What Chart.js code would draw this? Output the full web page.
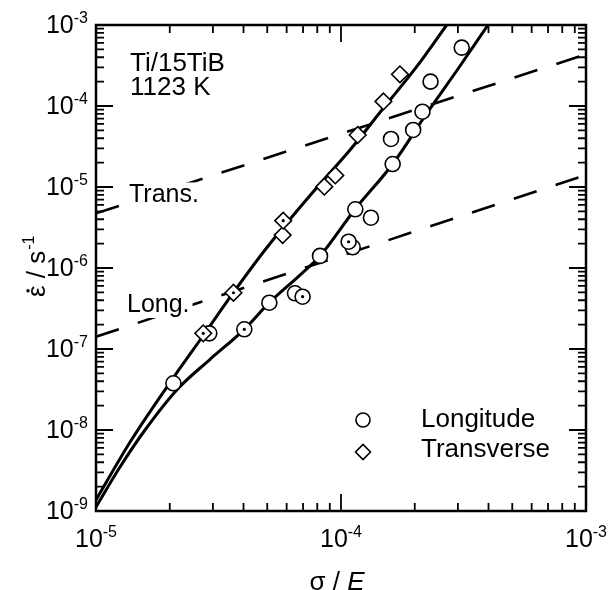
<!DOCTYPE html>
<html>
<head>
<meta charset="utf-8">
<script src="https://cdn.jsdelivr.net/npm/chart.js@4/dist/chart.umd.min.js"></script>
<style>
html,body{margin:0;padding:0;background:#fff;}
#wrap{width:612px;height:590px;position:relative;}
</style>
</head>
<body>
<div id="wrap"><canvas id="c"></canvas></div>
<script>
// ---- Data ----
const seriesNames = ['Longitude', 'Transverse'];

// Longitude (circles)
const longX   = [2.07e-5, 2.90e-5, 4.03e-5, 5.10e-5, 6.49e-5, 6.97e-5, 8.21e-5, 1.116e-4, 1.074e-4, 1.144e-4, 1.325e-4, 1.60e-4, 1.625e-4, 1.97e-4, 2.15e-4, 2.32e-4, 3.11e-4];
const longY   = [3.77e-8, 1.56e-7, 1.75e-7, 3.73e-7, 4.87e-7, 4.42e-7, 1.41e-6, 1.80e-6, 2.11e-6, 5.31e-6, 4.18e-6, 3.92e-5, 1.92e-5, 5.06e-5, 8.51e-5, 2.00e-4, 5.25e-4];
const longDot = [0, 0, 1, 0, 0, 1, 0, 0, 1, 0, 0, 0, 0, 0, 0, 0, 0];

// Transverse (diamonds)
const transX   = [2.74e-5, 3.64e-5, 5.78e-5, 5.81e-5, 8.55e-5, 9.48e-5, 1.17e-4, 1.49e-4, 1.74e-4];
const transY   = [1.56e-7, 4.95e-7, 2.55e-6, 3.84e-6, 1.01e-5, 1.39e-5, 4.38e-5, 1.14e-4, 2.46e-4];
const transDot = [1, 1, 0, 1, 0, 0, 0, 0, 0];

// Solid fitted curves
const transCurveX = [1.00e-5, 1.368e-5, 1.931e-5, 2.786e-5, 3.635e-5, 4.895e-5, 7.708e-5, 1.088e-4, 1.488e-4, 2.037e-4, 2.700e-4];
const transCurveY = [1.367e-9, 6.85e-9, 3.27e-8, 1.576e-7, 4.955e-7, 1.668e-6, 8.75e-6, 2.862e-5, 9.37e-5, 3.056e-4, 1.0e-3];
const longCurveX  = [1.00e-5, 1.253e-5, 1.585e-5, 2.155e-5, 2.900e-5, 4.030e-5, 5.097e-5, 6.80e-5, 8.21e-5, 1.141e-4, 1.626e-4, 2.244e-4, 3.060e-4, 3.981e-4];
const longCurveY  = [1.12e-9, 3.49e-9, 1.00e-8, 3.21e-8, 7.31e-8, 1.75e-7, 3.73e-7, 8.19e-7, 1.406e-6, 5.31e-6, 1.923e-5, 8.19e-5, 3.117e-4, 1.0e-3];

// Dashed guide lines
const transGuideX = [1e-5, 1e-3];
const transGuideY = [4.73e-6, 4.35e-4];
const longGuideX  = [1e-5, 1e-3];
const longGuideY  = [1.42e-7, 1.41e-5];

// Axis ticks
const xDecades = [1e-5, 1e-4, 1e-3];
const xExps    = ['-5', '-4', '-3'];
const yDecades = [1e-9, 1e-8, 1e-7, 1e-6, 1e-5, 1e-4, 1e-3];
const yExps    = ['-9', '-8', '-7', '-6', '-5', '-4', '-3'];
const minorMultipliers = [2, 3, 4, 5, 6, 7, 8, 9];

// ---- helpers ----
const pts = (xs, ys) => xs.map((x, i) => ({x: x, y: ys[i]}));
const ptsWhere = (xs, ys, flags) => pts(xs, ys).filter((p, i) => flags[i]);
const FONT = '"Liberation Sans", Arial, Helvetica, sans-serif';

const decor = {
  id: 'decor',
  afterDatasetsDraw(chart) {
    const ctx = chart.ctx;
    const a = chart.chartArea;
    const xs = chart.scales.x, ys = chart.scales.y;
    ctx.save();
    ctx.fillStyle = '#000';
    ctx.textBaseline = 'alphabetic';

    // Labels on dashed lines (white backing hides the dash underneath)
    function boxedLabel(txt, lx, by, size) {
      ctx.font = size + 'px ' + FONT;
      const w = ctx.measureText(txt).width;
      ctx.fillStyle = '#fff';
      ctx.fillRect(lx - 2, by - size * 0.78, w + 5, size * 1.02);
      ctx.fillStyle = '#000';
      ctx.textAlign = 'left';
      ctx.fillText(txt, lx, by);
    }
    boxedLabel('Trans.', a.left + 33, a.top + 177, 25);
    boxedLabel('Long.', a.left + 31, a.top + 287, 25);

    // Material / temperature text
    ctx.font = '26px ' + FONT;
    ctx.textAlign = 'left';
    ctx.fillText('Ti/15TiB', a.left + 34, a.top + 46);
    ctx.fillText('1123 K', a.left + 34, a.top + 70);

    // Legend
    const lgX = a.left + 267;
    const lgY = [a.top + 395, a.top + 427];
    ctx.lineWidth = 1.6;
    ctx.strokeStyle = '#000';
    ctx.fillStyle = '#fff';
    ctx.beginPath(); ctx.arc(lgX, lgY[0], 7, 0, Math.PI * 2); ctx.fill(); ctx.stroke();
    ctx.beginPath();
    ctx.moveTo(lgX - 7.5, lgY[1]); ctx.lineTo(lgX, lgY[1] - 7.5);
    ctx.lineTo(lgX + 7.5, lgY[1]); ctx.lineTo(lgX, lgY[1] + 7.5); ctx.closePath();
    ctx.fill(); ctx.stroke();
    ctx.fillStyle = '#000';
    ctx.font = '26px ' + FONT;
    ctx.fillText(seriesNames[0], a.left + 325, lgY[0] + 7);
    ctx.fillText(seriesNames[1], a.left + 325, lgY[1] + 5);

    // Frame
    ctx.lineWidth = 2.5;
    ctx.strokeStyle = '#000';
    ctx.strokeRect(a.left, a.top, a.right - a.left, a.bottom - a.top);

    // Ticks (inside, mirrored)
    ctx.lineWidth = 1.8;
    ctx.beginPath();
    const majL = 17, minL = 8;
    function yTick(v, len) {
      const p = ys.getPixelForValue(v);
      ctx.moveTo(a.left, p); ctx.lineTo(a.left + len, p);
      ctx.moveTo(a.right, p); ctx.lineTo(a.right - len, p);
    }
    function xTick(v, len) {
      const p = xs.getPixelForValue(v);
      ctx.moveTo(p, a.bottom); ctx.lineTo(p, a.bottom - len);
      ctx.moveTo(p, a.top); ctx.lineTo(p, a.top + len);
    }
    yDecades.forEach((d, i) => {
      yTick(d, majL);
      if (i < yDecades.length - 1) minorMultipliers.forEach(m => yTick(d * m, minL));
    });
    xDecades.forEach((d, i) => {
      xTick(d, majL);
      if (i < xDecades.length - 1) minorMultipliers.forEach(m => xTick(d * m, minL));
    });
    ctx.stroke();

    // Tick labels with superscripts
    const mainF = '25px ' + FONT, supF = '16px ' + FONT;
    ctx.fillStyle = '#000';
    ctx.textAlign = 'left';
    yDecades.forEach((d, i) => {
      const p = ys.getPixelForValue(d);
      ctx.font = supF; const ws = ctx.measureText(yExps[i]).width;
      ctx.font = mainF; const wm = ctx.measureText('10').width;
      const right = a.left - 8;
      ctx.fillText('10', right - ws - wm, p + 8);
      ctx.font = supF; ctx.fillText(yExps[i], right - ws, p - 2);
    });
    xDecades.forEach((d, i) => {
      const p = xs.getPixelForValue(d);
      ctx.font = supF; const ws = ctx.measureText(xExps[i]).width;
      ctx.font = mainF; const wm = ctx.measureText('10').width;
      const left = p - (ws + wm) / 2;
      ctx.fillText('10', left, a.bottom + 36);
      ctx.font = supF; ctx.fillText(xExps[i], left + wm, a.bottom + 26);
    });

    // X axis title: σ / E
    ctx.font = '26px ' + FONT;
    const t1 = 'σ / ';
    const w1 = ctx.measureText(t1).width;
    ctx.font = 'italic 26px ' + FONT;
    const w2 = ctx.measureText('E').width;
    const cx = (a.left + a.right) / 2 - 4;
    ctx.font = '26px ' + FONT;
    ctx.fillText(t1, cx - (w1 + w2) / 2, a.bottom + 79);
    ctx.font = 'italic 26px ' + FONT;
    ctx.fillText('E', cx - (w1 + w2) / 2 + w1, a.bottom + 79);

    // Y axis title: ε̇ / s^-1 (rotated)
    ctx.save();
    ctx.translate(45, 297);
    ctx.rotate(-Math.PI / 2);
    ctx.font = '26px ' + FONT;
    const we = ctx.measureText('ε').width;
    ctx.fillText('ε', 0, 0);
    ctx.beginPath();
    ctx.arc(we / 2 + 0.5, -17, 1.7, 0, Math.PI * 2);
    ctx.fill();
    const yt = ' / s';
    ctx.fillText(yt, we, 0);
    const wy = we + ctx.measureText(yt).width;
    ctx.font = '16px ' + FONT;
    ctx.fillText('-1', wy + 1, -11);
    ctx.restore();

    ctx.restore();
  }
};

new Chart(document.getElementById('c'), {
  type: 'scatter',
  data: {
    datasets: [
      { label: 'long-dot', data: ptsWhere(longX, longY, longDot), pointRadius: 1.6, pointStyle: 'circle',
        backgroundColor: '#000', borderWidth: 0, order: -3 },
      { label: 'trans-dot', data: ptsWhere(transX, transY, transDot), pointRadius: 1.6, pointStyle: 'circle',
        backgroundColor: '#000', borderWidth: 0, order: -3 },
      { label: seriesNames[1], data: pts(transX, transY), pointStyle: 'rectRot', pointRadius: 8.3,
        backgroundColor: '#fff', borderColor: '#000', borderWidth: 1.6, order: -2 },
      { label: seriesNames[0], data: pts(longX, longY), pointStyle: 'circle', pointRadius: 7.5,
        backgroundColor: '#fff', borderColor: '#000', borderWidth: 1.6, order: -1 },
      { type: 'line', label: 'trans-fit', data: pts(transCurveX, transCurveY), showLine: true, pointRadius: 0,
        borderColor: '#000', borderWidth: 3, cubicInterpolationMode: 'monotone', fill: false, order: 1 },
      { type: 'line', label: 'long-fit', data: pts(longCurveX, longCurveY), showLine: true, pointRadius: 0,
        borderColor: '#000', borderWidth: 3, cubicInterpolationMode: 'monotone', fill: false, order: 1 },
      { type: 'line', label: 'trans-guide', data: pts(transGuideX, transGuideY), showLine: true, pointRadius: 0,
        borderColor: '#000', borderWidth: 2.6, borderDash: [24, 20], fill: false, order: 2 },
      { type: 'line', label: 'long-guide', data: pts(longGuideX, longGuideY), showLine: true, pointRadius: 0,
        borderColor: '#000', borderWidth: 2.6, borderDash: [24, 20], fill: false, order: 2 }
    ]
  },
  options: {
    responsive: true,
    maintainAspectRatio: false,
    animation: false,
    events: [],
    layout: { padding: { left: 96, right: 26, top: 25, bottom: 79 } },
    plugins: { legend: { display: false }, tooltip: { enabled: false } },
    scales: {
      x: { type: 'logarithmic', min: 1e-5, max: 1e-3, display: false },
      y: { type: 'logarithmic', min: 1e-9, max: 1e-3, display: false }
    }
  },
  plugins: [decor]
});
</script>
</body>
</html>
